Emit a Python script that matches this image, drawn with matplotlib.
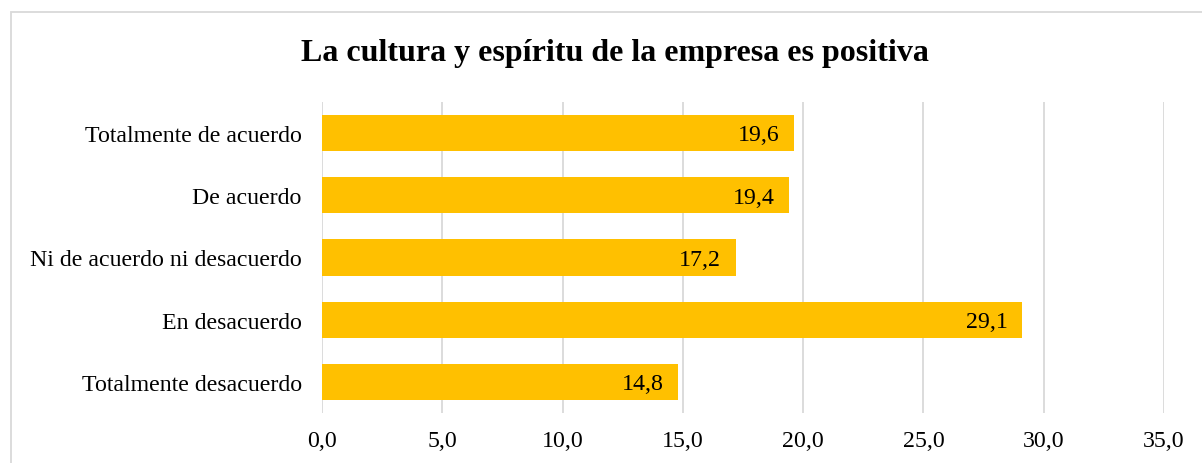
import matplotlib.pyplot as plt
from matplotlib.patches import Rectangle

# Datos
categorias = ['Totalmente desacuerdo', 'En desacuerdo', 'Ni de acuerdo ni desacuerdo',
              'De acuerdo', 'Totalmente de acuerdo']
valores = [14.8, 29.1, 17.2, 19.4, 19.6]
ticks_x = [0, 5, 10, 15, 20, 25, 30, 35]

plt.rcParams['font.family'] = ['Liberation Serif', 'DejaVu Serif']

fig = plt.figure(figsize=(12.02, 4.64), dpi=100)
ax = fig.add_axes([322 / 1202, 1 - 414 / 464, (1164 - 322) / 1202, (414 - 103) / 464])

# Borde del grafico
fig.patches.append(Rectangle((11 / 1202, -0.05), 1.2, 1 - 13 / 464 + 0.05,
                             transform=fig.transFigure, fill=False,
                             edgecolor='#d9d9d9', linewidth=1.3))

y = range(len(categorias))
barras = ax.barh(y, valores, height=0.58, color='#FFC000', zorder=3)

for b, v in zip(barras, valores):
    ax.text(v - 0.6, b.get_y() + b.get_height() / 2 - 0.03, f'{v:.1f}'.replace('.', ','),
            ha='right', va='center', fontsize=17.2, zorder=4)

ax.set_xlim(0, 35)
ax.set_ylim(-0.5, len(categorias) - 0.5)
ax.set_xticks(ticks_x)
ax.set_xticklabels([f'{t:.1f}'.replace('.', ',') for t in ticks_x], fontsize=17.2)
ax.set_yticks(list(y))
ax.set_yticklabels(categorias, fontsize=17.2)
ax.tick_params(axis='both', length=0)
ax.tick_params(axis='x', pad=12.5)
ax.tick_params(axis='y', pad=14.5)
ax.xaxis.grid(True, color='#d9d9d9', linewidth=1.3, zorder=0)
for s in ax.spines.values():
    s.set_visible(False)

fig.text(615 / 1202, 1 - 53 / 464, 'La cultura y espíritu de la empresa es positiva',
         ha='center', va='center', fontsize=23, fontweight='bold')

fig.savefig('out.png', dpi=100)
